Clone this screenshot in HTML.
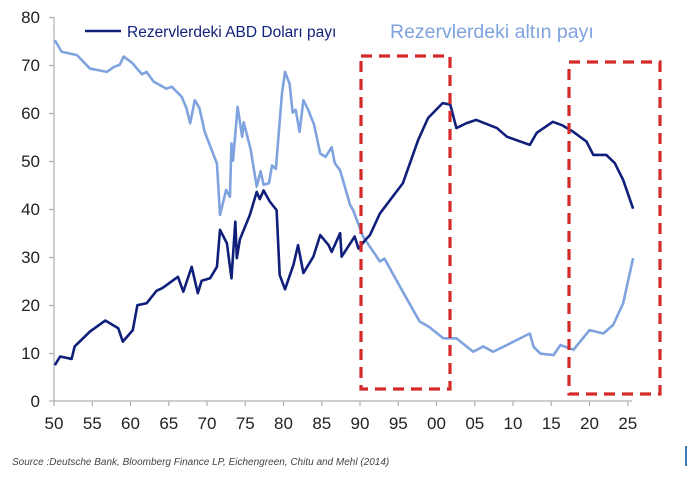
<!DOCTYPE html>
<html><head><meta charset="utf-8"><style>
body{margin:0;background:#fff;width:700px;height:472px;overflow:hidden}
text{font-family:"Liberation Sans",sans-serif}
</style></head><body>
<svg width="700" height="472" viewBox="0 0 700 472" xmlns="http://www.w3.org/2000/svg">
<g stroke="#b0b0b0" stroke-width="1.2" fill="none">
<line x1="54" y1="17" x2="54" y2="401"/>
<line x1="54" y1="401" x2="632" y2="401"/>
<path d="M49 17.5H54M49 65.5H54M49 113.5H54M49 161.5H54M49 209.5H54M49 257.5H54M49 305.5H54M49 353.5H54M49 401H54"/>
<path d="M54 401v5M92.3 401v5M130.5 401v5M168.8 401v5M207 401v5M245.3 401v5M283.5 401v5M321.8 401v5M360 401v5M398.3 401v5M436.5 401v5M474.8 401v5M513 401v5M551.3 401v5M589.5 401v5M627.8 401v5"/>
</g>
<g font-size="17" fill="#222" text-anchor="end">
<text x="40" y="23">80</text><text x="40" y="71">70</text><text x="40" y="119">60</text><text x="40" y="167">50</text><text x="40" y="215">40</text><text x="40" y="263">30</text><text x="40" y="311">20</text><text x="40" y="359">10</text><text x="40" y="407">0</text>
</g>
<g font-size="17" fill="#222" text-anchor="middle">
<text x="54" y="429">50</text><text x="92.3" y="429">55</text><text x="130.5" y="429">60</text><text x="168.8" y="429">65</text><text x="207" y="429">70</text><text x="245.3" y="429">75</text><text x="283.5" y="429">80</text><text x="321.8" y="429">85</text><text x="360" y="429">90</text><text x="398.3" y="429">95</text><text x="436.5" y="429">00</text><text x="474.8" y="429">05</text><text x="513" y="429">10</text><text x="551.3" y="429">15</text><text x="589.5" y="429">20</text><text x="627.8" y="429">25</text>
</g>
<g transform="translate(54,400.7) scale(7.65,-4.8)" fill="none" stroke-linejoin="round">
<polyline vector-effect="non-scaling-stroke" stroke="#7fa3df" stroke-width="2.6" points="0.1,75.1 1,72.7 3,72 4.7,69.2 6.9,68.5 7.8,69.5 8.6,70 9.1,71.7 10.2,70.4 11.5,68 12.1,68.5 13,66.5 14.7,65 15.4,65.4 16.7,63.3 17.3,61 17.8,57.8 18.4,62.6 19,61 19.7,56 21.3,49.4 21.7,38.7 22.5,43.9 23,42.5 23.2,53.6 23.4,50 24,61.2 24.6,55 24.8,58 25.7,52.4 26.5,44.6 27,47.8 27.4,45 28.1,45.3 28.5,49 29,48.3 29.8,64 30.2,68.5 30.8,66 31.2,60 31.6,60.6 32.1,56 32.6,62.6 33.2,60.7 34,57.5 34.8,51.5 35.5,50.8 36.3,52.8 36.7,49.5 37.4,48 38.7,40.8 39.1,39.7 40.4,34.2 42.6,29 43.2,29.6 45.7,22.4 47.8,16.5 49,15.4 50.9,13 52.6,13 54.8,10.2 56.1,11.3 57.4,10.2 59.2,11.6 62.2,14 62.7,11.2 63.6,9.8 65.3,9.5 66.2,11.6 67.9,10.6 70,14.7 71.8,14 73.1,15.8 74.4,20.3 75.7,29.7"/>
<polyline vector-effect="non-scaling-stroke" stroke="#0f1f7a" stroke-width="2.6" points="0.1,7.4 0.8,9.2 2.3,8.7 2.7,11.3 4.7,14.4 6.7,16.7 8.4,15.1 9,12.3 10.3,14.7 10.9,19.9 12.1,20.3 13.4,22.9 14.2,23.5 16.2,25.8 16.9,22.7 18,27.9 18.8,22.4 19.3,25 20.4,25.5 21.3,27.9 21.7,35.6 22.6,32.8 23.2,25.5 23.7,37.3 23.9,29.7 24.3,33.6 25.6,38.7 26.5,43.5 26.9,42 27.4,43.8 28.2,41.5 29.1,39.7 29.5,26.2 30.2,23.2 31.3,28.3 31.9,32.4 32.6,26.6 33.9,30 34.8,34.5 35.9,32.4 36.3,31 37.4,34.9 37.6,30 39.3,34.2 39.8,31.7 40.7,33.5 41.3,34.5 42.6,39 45.6,45.3 47.6,54.3 48.9,58.9 50.8,62 51.8,61.7 52.6,56.8 53.9,57.8 55.2,58.5 57.9,56.8 59.2,55 62.2,53.3 63.1,55.8 65.2,58.1 66.4,57.4 67.9,56 69.6,54 70.5,51.2 72.2,51.2 73.3,49.5 74.4,46 75.7,40"/>
</g>
<g stroke="#d42a2a" stroke-width="3.2" fill="none" stroke-dasharray="11,7">
<rect x="361" y="56" width="89" height="333"/>
<rect x="569" y="62" width="91" height="332"/>
</g>
<line x1="85" y1="31" x2="121" y2="31" stroke="#0f1f7a" stroke-width="2.6"/>
<text x="127" y="37" font-size="15.5" fill="#0f1f7a">Rezervlerdeki ABD Doları payı</text>
<text x="390" y="38" font-size="19.5" fill="#7fa3df">Rezervlerdeki altın payı</text>
<text x="12" y="465" font-size="10" font-style="italic" fill="#444">Source :Deutsche Bank, Bloomberg Finance LP, Eichengreen, Chitu and Mehl (2014)</text>
<rect x="685" y="446" width="2" height="20" fill="#3a7fc0"/>
</svg>
</body></html>
